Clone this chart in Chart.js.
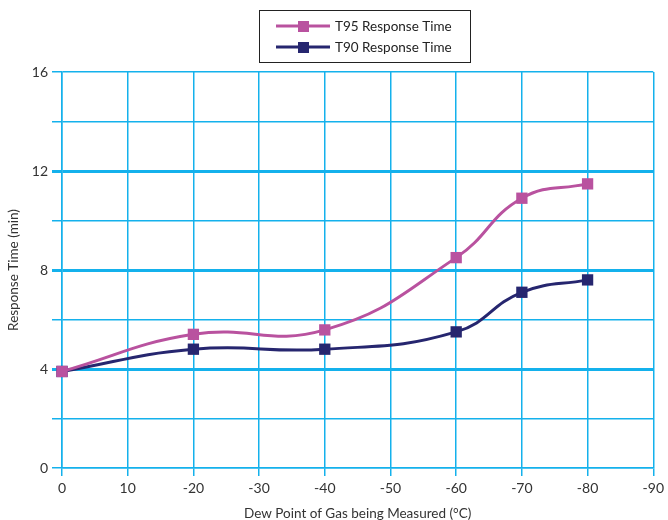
<!DOCTYPE html>
<html>
<head>
<meta charset="utf-8">
<script src="https://cdn.jsdelivr.net/npm/chart.js@4"></script>
<style>
  body { margin: 0; background: #fff; }
  #wrap { width: 668px; height: 520px; }
</style>
</head>
<body>
<div id="wrap"><canvas id="grafico"></canvas></div>
<script>
// dados
var dewPoints = [0, -20, -40, -60, -70, -80]
var t95 = [3.9, 5.4, 5.58, 8.5, 10.9, 11.48]
var t90 = [3.9, 4.8, 4.8, 5.5, 7.1, 7.6]
var xTickLabels = ['0', '10', '-20', '-30', '-40', '-50', '-60', '-70', '-80', '-90']
var seriesLabels = ['T95 Response Time', 'T90 Response Time']
var seriesColors = ['#b9529f', '#26266f']

var azul = '#14b1ec'
var fonte = 'Lato, "Noto Sans", sans-serif'

function pontos(vals) {
  return dewPoints.map((d, i) => ({ x: d, y: vals[i] }))
}

// legenda com borda desenhada a mao
var legendaBox = {
  id: 'legendaBox',
  afterDraw(chart) {
    var ctx = chart.ctx
    ctx.save()
    ctx.strokeStyle = '#222'
    ctx.lineWidth = 1
    ctx.strokeRect(259.5, 10.5, 211, 52)
    chart.data.datasets.forEach((ds, i) => {
      var y = 26 + i * 21
      ctx.strokeStyle = ds.borderColor
      ctx.lineWidth = 3
      ctx.beginPath()
      ctx.moveTo(276, y)
      ctx.lineTo(330, y)
      ctx.stroke()
      ctx.fillStyle = ds.borderColor
      ctx.fillRect(298, y - 5, 11, 11)
      ctx.fillStyle = '#222'
      ctx.font = '13.5px ' + fonte
      ctx.textBaseline = 'middle'
      ctx.fillText(ds.label, 335, y + 1)
    })
    ctx.restore()
  }
}

var plots = document.getElementById('grafico')

new Chart(plots, {
  type: 'line',
  data: {
    datasets: [{
      label: seriesLabels[0],
      data: pontos(t95),
      borderColor: seriesColors[0],
      backgroundColor: seriesColors[0],
      borderWidth: 3,
      tension: 0.45,
      pointStyle: 'rect',
      pointRadius: 8,
      pointBorderWidth: 0,
      clip: false
    }, {
      label: seriesLabels[1],
      data: pontos(t90),
      borderColor: seriesColors[1],
      backgroundColor: seriesColors[1],
      borderWidth: 3,
      tension: 0.45,
      pointStyle: 'rect',
      pointRadius: 8,
      pointBorderWidth: 0,
      clip: false
    }]
  },
  options: {
    responsive: true,
    maintainAspectRatio: false,
    animation: false,
    layout: { padding: { top: 72, right: 12, left: 0, bottom: 0 } },
    plugins: {
      legend: { display: false },
      tooltip: { enabled: false }
    },
    scales: {
      x: {
        type: 'linear',
        reverse: true,
        min: -90,
        max: 0,
        ticks: {
          stepSize: 10,
          color: '#333',
          font: { family: fonte, size: 14 },
          padding: 4,
          maxRotation: 0,
          callback: v => xTickLabels[Math.round(-v / 10)]
        },
        grid: { color: azul, lineWidth: 1.5, tickLength: 8 },
        border: { color: azul, width: 1.5 },
        title: {
          display: true,
          text: 'Dew Point of Gas being Measured (°C)',
          color: '#333',
          font: { family: fonte, size: 13.5 },
          padding: { top: 0, bottom: -2 }
        },
        afterFit: s => { s.height = 52 }
      },
      y: {
        min: 0,
        max: 16,
        ticks: {
          stepSize: 2,
          color: '#333',
          font: { family: fonte, size: 14 },
          padding: 4,
          callback: v => (v % 4 === 0 ? v : '')
        },
        grid: {
          color: azul,
          lineWidth: c => ([4, 8, 12].includes(c.tick && c.tick.value) ? 3 : 1.5),
          tickLength: 10
        },
        border: { color: azul, width: 1.5 },
        title: {
          display: true,
          text: 'Response Time (min)',
          color: '#333',
          font: { family: fonte, size: 13.5 },
          padding: { top: 6, bottom: 0 }
        },
        afterFit: s => { s.width = 62 }
      }
    }
  },
  plugins: [legendaBox]
})
</script>
</body>
</html>
